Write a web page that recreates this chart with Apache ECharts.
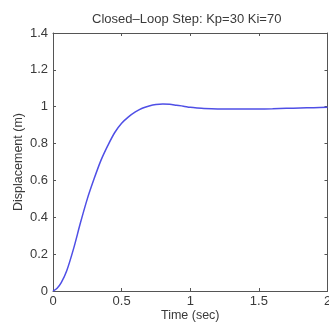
<!DOCTYPE html>
<html><head><meta charset="utf-8">
<script src="https://cdn.jsdelivr.net/npm/echarts@6/dist/echarts.min.js"></script>
<style>html,body{margin:0;padding:0;background:#fff}#c{width:329px;height:322px}</style>
</head><body><div id="c"></div>
<script>
var titleText = 'Closed\u2013Loop Step: Kp=30 Ki=70';
var xName = 'Time (sec)';
var yName = 'Displacement (m)';
var timeSec = [0, 0.03, 0.06, 0.1, 0.15, 0.2, 0.25, 0.3, 0.35, 0.4, 0.45, 0.5, 0.55, 0.6, 0.65, 0.7, 0.75, 0.8, 0.85, 0.9, 0.95, 1.0, 1.05, 1.1, 1.2, 1.3, 1.4, 1.5, 1.6, 1.7, 1.8, 1.9, 2.0];
var displacement = [0, 0.015, 0.045, 0.11, 0.23, 0.37, 0.5, 0.61, 0.71, 0.79, 0.86, 0.91, 0.945, 0.972, 0.992, 1.004, 1.012, 1.015, 1.013, 1.008, 1.003, 0.997, 0.993, 0.99, 0.988, 0.988, 0.988, 0.988, 0.989, 0.991, 0.993, 0.995, 0.997];
var xTicks = [0, 0.5, 1, 1.5, 2];
var yTicks = [0, 0.2, 0.4, 0.6, 0.8, 1, 1.2, 1.4];

var font = 'Liberation Sans, Arial, sans-serif';
var axisCol = '#555';
var textCol = '#3a3a3a';
var chart = echarts.init(document.getElementById('c'));
function baseAxis(){
  return {
    axisLine:{show:true,onZero:false,lineStyle:{color:axisCol,width:1}},
    axisTick:{show:true,inside:true,length:3,lineStyle:{color:axisCol}},
    splitLine:{show:false}
  };
}
var xa = baseAxis(), xb = baseAxis(), ya = baseAxis(), yb = baseAxis();
Object.assign(xa,{type:'value',min:xTicks[0],max:xTicks[xTicks.length-1],interval:0.5,position:'bottom',
  name:xName,nameLocation:'middle',nameGap:18,nameMoveOverlap:false,nameTextStyle:{fontFamily:font,fontSize:12.5,color:textCol},
  axisLabel:{fontFamily:font,fontSize:13,color:textCol,margin:4,hideOverlap:false}});
Object.assign(xb,{type:'value',min:xTicks[0],max:xTicks[xTicks.length-1],interval:0.5,position:'top',axisLabel:{show:false}});
Object.assign(ya,{type:'value',min:yTicks[0],max:yTicks[yTicks.length-1],interval:0.2,position:'left',
  name:yName,nameLocation:'middle',nameGap:28,nameMoveOverlap:false,nameTextStyle:{fontFamily:font,fontSize:12.5,color:textCol},
  axisLabel:{fontFamily:font,fontSize:13,color:textCol,margin:5}});
Object.assign(yb,{type:'value',min:yTicks[0],max:yTicks[yTicks.length-1],interval:0.2,position:'right',axisLabel:{show:false}});

chart.setOption({
  animation:false,
  backgroundColor:'#fff',
  title:{text:titleText,left:87,top:8,textStyle:{fontFamily:font,fontSize:13,fontWeight:'normal',color:textCol}},
  grid:{left:53,right:1.5,top:33,bottom:31,containLabel:false,outerBoundsMode:'none'},
  xAxis:[xa,xb],
  yAxis:[ya,yb],
  series:[{type:'line',xAxisIndex:0,yAxisIndex:0,showSymbol:false,smooth:0.3,
    lineStyle:{color:'#4f4fe6',width:1.5},
    data:timeSec.map(function(t,i){return [t,displacement[i]];})}]
});
</script></body></html>
